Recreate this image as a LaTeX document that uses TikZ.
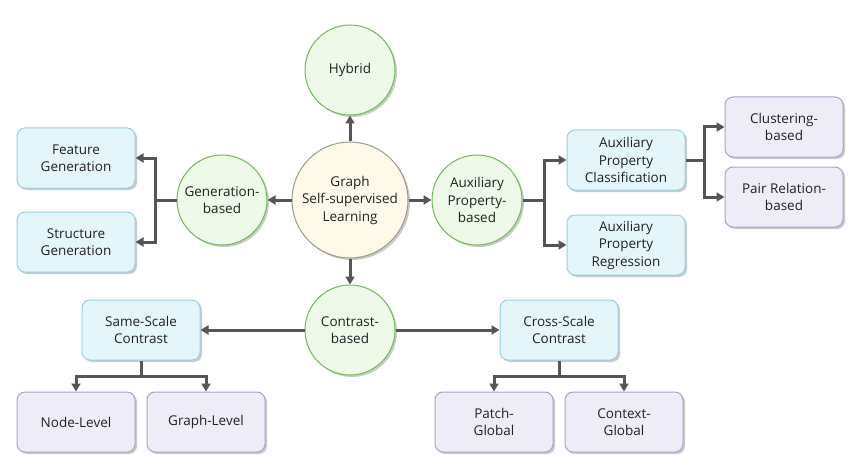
\documentclass[tikz,border=0pt]{standalone}
\usepackage{fontspec}
\setmainfont{Open Sans}
\usetikzlibrary{arrows.meta,shadows}
\definecolor{bluefill}{HTML}{E5F6FB}
\definecolor{blueline}{HTML}{9CCFE0}
\definecolor{purfill}{HTML}{EEECF6}
\definecolor{purline}{HTML}{A8A3CC}
\definecolor{grnfill}{HTML}{EEF9EA}
\definecolor{grnline}{HTML}{73B95A}
\definecolor{cenfill}{HTML}{FEF9E8}
\definecolor{cenline}{HTML}{9A9A8A}
\definecolor{arrcol}{HTML}{555555}
\definecolor{txt}{HTML}{222222}
\tikzset{
  base/.style={font=\fontsize{13.5}{17.5}\selectfont, text=txt, align=center, line width=1pt,
    drop shadow={shadow xshift=2pt, shadow yshift=-2pt, fill=black!35, opacity=0.6}},
  bluebox/.style={base, rectangle, rounded corners=8pt, draw=blueline, fill=bluefill, minimum width=118pt, minimum height=60pt},
  purbox/.style={base, rectangle, rounded corners=8pt, draw=purline, fill=purfill, minimum width=118pt, minimum height=60pt},
  grncirc/.style={base, circle, draw=grnline, fill=grnfill, minimum size=90pt, inner sep=0pt},
  cencirc/.style={base, circle, draw=cenline, fill=cenfill, minimum size=116pt, inner sep=0pt},
  conn/.style={draw=arrcol, line width=3pt},
  arr/.style={conn, -{Triangle[length=8pt,width=9pt]}}
}
\begin{document}
\begin{tikzpicture}[x=1pt,y=-1pt]
\useasboundingbox (0,0) rectangle (851,476);
% circles
\node[cencirc] (center) at (350,200) {Graph\\Self-supervised\\Learning};
\node[grncirc] (hybrid) at (350,70) {Hybrid};
\node[grncirc] (gen) at (222,200) {Generation-\\based};
\node[grncirc] (aux) at (477,200) {Auxiliary\\Property-\\based};
\node[grncirc] (con) at (350,330) {Contrast-\\based};
% boxes
\node[bluebox] (feat) at (76,158) {Feature\\Generation};
\node[bluebox] (struct) at (76,242) {Structure\\Generation};
\node[bluebox] (apc) at (626,160) {Auxiliary\\Property\\Classification};
\node[bluebox] (apr) at (626,245) {Auxiliary\\Property\\Regression};
\node[purbox] (clus) at (784,127) {Clustering-\\based};
\node[purbox] (pair) at (784,197) {Pair Relation-\\based};
\node[bluebox] (same) at (141,330) {Same-Scale\\Contrast};
\node[bluebox] (cross) at (559,330) {Cross-Scale\\Contrast};
\node[purbox] (nodel) at (76,422) {Node-Level};
\node[purbox] (graphl) at (206,422) {Graph-Level};
\node[purbox] (patch) at (494,422) {Patch-\\Global};
\node[purbox] (context) at (624,422) {Context-\\Global};
% bus coordinates
\coordinate (gbus) at (155,200);
\coordinate (abus) at (544,200);
\coordinate (cbus) at (704,160);
\coordinate (sbus) at (141,376);
\coordinate (xbus) at (559,376);
% connectors
\draw[arr] (center) -- (hybrid);
\draw[arr] (center) -- (gen);
\draw[arr] (center) -- (aux);
\draw[arr] (center) -- (con);
\draw[conn] (gen.west) -- (gbus);
\draw[arr] (gbus) |- (feat.east);
\draw[arr] (gbus) |- (struct.east);
\draw[conn] (aux.east) -- (abus);
\draw[arr] (abus) |- (apc.west);
\draw[arr] (abus) |- (apr.west);
\draw[conn] (apc.east) -- (cbus);
\draw[arr] (cbus) |- (clus.west);
\draw[arr] (cbus) |- (pair.west);
\draw[arr] (con) -- (same);
\draw[arr] (con) -- (cross);
\draw[conn] (same.south) -- (sbus);
\draw[arr] (sbus) -| (nodel.north);
\draw[arr] (sbus) -| (graphl.north);
\draw[conn] (cross.south) -- (xbus);
\draw[arr] (xbus) -| (patch.north);
\draw[arr] (xbus) -| (context.north);
\end{tikzpicture}
\end{document}
